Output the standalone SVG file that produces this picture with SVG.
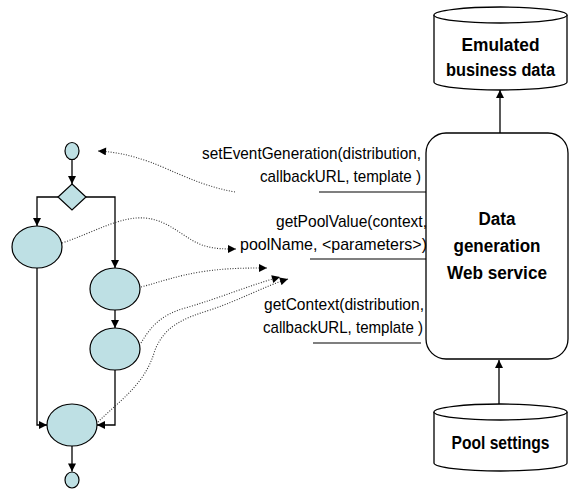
<svg xmlns="http://www.w3.org/2000/svg" width="570" height="489" viewBox="0 0 570 489">
  <style>
    .node { fill: #bee0e4; stroke: #000; stroke-width: 1.2; }
    .store { fill: #fff; stroke: #000; stroke-width: 1.3; }
    .flow { fill: none; stroke: #000; stroke-width: 1.3; marker-end: url(#head); }
    .call { fill: none; stroke: #333; stroke-width: 1.1; stroke-dasharray: 1 1.6; marker-end: url(#head); }
    .rule { stroke: #000; stroke-width: 1.2; }
    .op { font-family: "Liberation Sans", Arial, sans-serif; font-size: 17px; fill: #000; text-anchor: end; }
    .title { font-family: "Liberation Sans", Arial, sans-serif; font-size: 18px; font-weight: bold; fill: #000; text-anchor: middle; }
  </style>
  <defs>
    <marker id="head" viewBox="0 0 10 10" refX="10" refY="5" markerWidth="9" markerHeight="8" markerUnits="userSpaceOnUse" orient="auto">
      <path d="M0,0 L10,5 L0,10 z" fill="#000"/>
    </marker>
  </defs>

  <!-- process flow -->
  <g id="start"><ellipse class="node" cx="72" cy="151" rx="7" ry="8.5"/></g>
  <g id="decision"><polygon class="node" points="72,184 86,197 72,210 58,197"/></g>
  <g id="step-left"><ellipse class="node" cx="37" cy="247" rx="25" ry="21"/></g>
  <g id="step-right-1"><ellipse class="node" cx="115" cy="289" rx="25" ry="21"/></g>
  <g id="step-right-2"><ellipse class="node" cx="115" cy="349" rx="25" ry="21"/></g>
  <g id="join"><ellipse class="node" cx="72" cy="425" rx="25" ry="21"/></g>
  <g id="end"><ellipse class="node" cx="72" cy="480" rx="7" ry="8"/></g>

  <!-- service and data stores -->
  <g id="web-service">
    <rect class="store" x="426" y="133" width="142" height="226" rx="20" ry="20"/>
    <text class="title" x="497" y="225" textLength="37" lengthAdjust="spacingAndGlyphs">Data</text>
    <text class="title" x="497" y="252" textLength="87" lengthAdjust="spacingAndGlyphs">generation</text>
    <text class="title" x="497" y="279" textLength="100" lengthAdjust="spacingAndGlyphs">Web service</text>
  </g>
  <g id="business-data">
    <path class="store" d="M434,15 L434,82 A66.5,8 0 0 0 567,82 L567,15"/>
    <ellipse class="store" cx="500.5" cy="15" rx="66.5" ry="8"/>
    <text class="title" x="500.5" y="51" textLength="78" lengthAdjust="spacingAndGlyphs">Emulated</text>
    <text class="title" x="500.5" y="76" textLength="109" lengthAdjust="spacingAndGlyphs">business data</text>
  </g>
  <g id="pool-settings">
    <path class="store" d="M434,412 L434,463 A66.5,8 0 0 0 567,463 L567,412"/>
    <ellipse class="store" cx="500.5" cy="412" rx="66.5" ry="8"/>
    <text class="title" x="500.5" y="449" textLength="98" lengthAdjust="spacingAndGlyphs">Pool settings</text>
  </g>

  <!-- operation labels -->
  <g id="operations">
    <text class="op" x="421" y="159" textLength="219" lengthAdjust="spacingAndGlyphs">setEventGeneration(distribution,</text>
    <text class="op" x="421" y="182" textLength="161" lengthAdjust="spacingAndGlyphs">callbackURL, template )</text>
    <line class="rule" x1="319" y1="192" x2="426" y2="192"/>
    <text class="op" x="427" y="227" textLength="151" lengthAdjust="spacingAndGlyphs">getPoolValue(context,</text>
    <text class="op" x="427" y="250" textLength="187" lengthAdjust="spacingAndGlyphs">poolName, &lt;parameters&gt;)</text>
    <line class="rule" x1="310" y1="259" x2="426" y2="259"/>
    <text class="op" x="424" y="310" textLength="160" lengthAdjust="spacingAndGlyphs">getContext(distribution,</text>
    <text class="op" x="423" y="333" textLength="160" lengthAdjust="spacingAndGlyphs">callbackURL, template )</text>
    <line class="rule" x1="313" y1="343" x2="421" y2="343"/>
  </g>

  <!-- connectors -->
  <g id="connectors">
    <path class="flow" d="M72,159.5 L72,184"/>
    <path class="flow" d="M58,197 L37,197 L37,226"/>
    <path class="flow" d="M86,197 L115,197 L115,268"/>
    <path class="flow" d="M115,310 L115,328"/>
    <path class="flow" d="M115,370 L115,425 L97,425"/>
    <path class="flow" d="M37,268 L37,425 L47,425"/>
    <path class="flow" d="M72,446 L72,471.5"/>
    <path class="flow" d="M500,133 L500,90"/>
    <path class="flow" d="M499,404 L499,360"/>

    <path class="call" d="M235,192 C200,186 172,170 150,162 C130,155 116,152 98,151"/>
    <path class="call" d="M62,243 C95,232 120,216 145,218 C170,220 185,240 205,246 C215,249 225,249 236,249"/>
    <path class="call" d="M141,287 C160,282 176,276 200,272 C225,268 245,268 267,268"/>
    <path class="call" d="M141,343 C150,328 160,315 185,308 C220,298 250,285 280,277"/>
    <path class="call" d="M98,422 C120,400 145,385 155,350 C165,325 185,318 210,310 C240,300 265,286 288,279"/>
  </g>
</svg>
